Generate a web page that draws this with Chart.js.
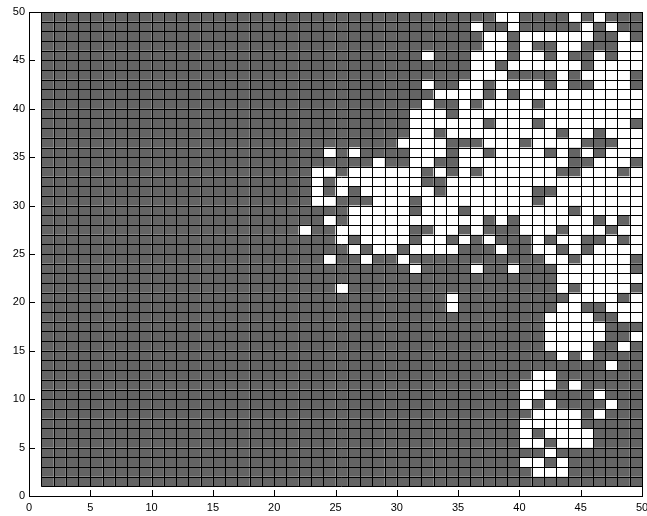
<!DOCTYPE html>
<html><head><meta charset="utf-8">
<script src="https://cdn.jsdelivr.net/npm/chart.js@4.4.0/dist/chart.umd.min.js"></script>
<style>html,body{margin:0;padding:0;background:#fff;overflow:hidden}#wrap{width:647px;height:516px}</style>
</head><body><div id="wrap"><canvas id="c" width="647" height="516"></canvas></div>
<script>
// Axis ticks
const xTickValues = [0,5,10,15,20,25,30,35,40,45,50];
const yTickValues = [0,5,10,15,20,25,30,35,40,45,50];
// Cell grid: cells span [c, c+1] x [r, r+1]
const cellCols = Array.from({length:49},(_,i)=>i+1);
const cellRows = Array.from({length:49},(_,i)=>i+1);
const gridEdges = Array.from({length:50},(_,i)=>i+1);
// Row numbers listed top to bottom, and the white cell columns in each row
const rowOrder = [49,48,47,46,45,44,43,42,41,40,39,38,37,36,35,34,33,32,31,30,29,28,27,26,25,24,23,22,21,20,19,18,17,16,15,14,13,12,11,10,9,8,7,6,5,4,3,2,1];
const whiteColsByRow = [
  [38,39,44,46],
  [36,39,45,47],
  [37,38,40,41,42,43,44,45,48],
  [37,38,40,43,44,48,49],
  [32,36,37,38,40,41,43,46,48,49],
  [36,37,39,40,41,42,43,44,46,47,48,49],
  [36,37,38,43,45,46,47,48],
  [32,35,36,38,39,40,41,43,46,47,48],
  [33,34,35,36,38,40,41,42,43,44,45,46,47,48,49],
  [32,35,37,38,39,40,42,43,44,45,46,47,48,49],
  [31,32,33,35,36,37,38,39,40,41,42,43,44,45,46,47,48,49],
  [31,32,33,34,35,36,38,39,40,42,43,44,45,46,47,48],
  [31,32,34,35,36,37,38,39,40,41,42,44,45,47,48,49],
  [30,31,32,33,37,38,39,41,42,43,44,48,49],
  [24,26,31,32,33,35,36,38,39,40,41,43,45,47,48,49],
  [28,31,32,35,36,37,38,39,40,41,42,43,46,47,48],
  [23,24,26,27,28,29,30,31,33,35,37,38,39,40,41,42,45,46,47,49],
  [23,25,26,27,28,29,30,31,34,35,36,37,38,39,40,41,42,43,44,45,46,47,48,49],
  [23,25,27,28,29,30,31,32,34,35,36,37,38,39,40,43,44,45,46,47,48,49],
  [23,24,28,29,30,32,33,34,35,36,37,38,39,40,42,43,44,45,46,47,48,49],
  [26,27,28,29,30,32,33,34,36,37,38,39,40,41,42,43,45,46,47,48,49],
  [24,26,27,28,29,30,31,32,33,34,35,36,38,40,41,42,43,44,45,47,49],
  [22,25,26,27,28,29,30,33,34,36,40,41,42,44,45,46,48,49],
  [25,27,28,29,30,32,33,35,37,41,43,44,47,49],
  [26,28,29,31,32,33,34,38,41,42,44,46,47,48,49],
  [24,27,30,42,43,45,46,47,48],
  [31,36,39,43,44,45,46,47,48],
  [43,44,45,46,47,48,49],
  [25,43,45,46,47,48],
  [34,44,45,46,47,49],
  [34,43,44,47,48,49],
  [42,43,44,45,48,49],
  [42,43,44,45,46],
  [42,43,44,45,46,49],
  [42,43,44,45,48],
  [43,45],
  [47],
  [41,42],
  [40,41,42,44],
  [40,41,46],
  [40,42,47],
  [41,42,43,44,46],
  [40,41,42,43,44],
  [40,42,43,44,45],
  [40,41,43,44,45],
  [42],
  [40,41,43],
  [41,42,43],
  []
];

const darkPts = [], whitePts = [];
rowOrder.forEach((r, i) => {
  const w = new Set(whiteColsByRow[i]);
  cellCols.forEach(c => (w.has(c) ? whitePts : darkPts).push({x:c, y:r}));
});

const cellPlugin = {
  id: 'cells',
  beforeDatasetsDraw(chart) {
    const {ctx, chartArea, scales:{x, y}} = chart;
    ctx.save();
    // inward tick marks
    ctx.strokeStyle = '#000'; ctx.lineWidth = 1;
    ctx.beginPath();
    xTickValues.forEach(v => { const p = Math.round(x.getPixelForValue(v)) + 0.5;
      ctx.moveTo(p, chartArea.bottom); ctx.lineTo(p, chartArea.bottom - 6);
      ctx.moveTo(p, chartArea.top); ctx.lineTo(p, chartArea.top + 6); });
    yTickValues.forEach(v => { const p = Math.round(y.getPixelForValue(v)) + 0.5;
      ctx.moveTo(chartArea.left, p); ctx.lineTo(chartArea.left + 6, p);
      ctx.moveTo(chartArea.right, p); ctx.lineTo(chartArea.right - 6, p); });
    ctx.stroke();
    // cells
    chart.data.datasets.forEach(ds => {
      ctx.fillStyle = ds.backgroundColor;
      ds.data.forEach(p => {
        const x0 = x.getPixelForValue(p.x), x1 = x.getPixelForValue(p.x + 1);
        const y0 = y.getPixelForValue(p.y + 1), y1 = y.getPixelForValue(p.y);
        ctx.fillRect(x0, y0, x1 - x0, y1 - y0);
      });
    });
    // cell edges
    ctx.strokeStyle = '#000'; ctx.lineWidth = 1;
    ctx.beginPath();
    const yb = y.getPixelForValue(1), yt = y.getPixelForValue(50);
    const xl = x.getPixelForValue(1), xr = x.getPixelForValue(50);
    gridEdges.forEach(e => {
      const px = Math.round(x.getPixelForValue(e)) + 0.5;
      ctx.moveTo(px, yb); ctx.lineTo(px, yt);
      const py = Math.round(y.getPixelForValue(e)) + 0.5;
      ctx.moveTo(xl, py); ctx.lineTo(xr, py);
    });
    ctx.stroke();
    // frame
    ctx.strokeRect(Math.round(chartArea.left) + 0.5, Math.round(chartArea.top) + 0.5,
      Math.round(chartArea.right - chartArea.left), Math.round(chartArea.bottom - chartArea.top));
    ctx.restore();
  }
};

const tickFont = {family: '"Liberation Sans", Arial, sans-serif', size: 11};
new Chart(document.getElementById('c'), {
  type: 'scatter',
  data: { datasets: [
    { label: 'dark', data: darkPts, backgroundColor: '#646464', pointRadius: 0 },
    { label: 'white', data: whitePts, backgroundColor: '#ffffff', pointRadius: 0 }
  ]},
  options: {
    responsive: false, animation: false, devicePixelRatio: 1,
    layout: { padding: { top: 12, right: 5, left: 0, bottom: 0 } },
    plugins: { legend: { display: false }, tooltip: { enabled: false } },
    events: [],
    scales: {
      x: { type: 'linear', min: 0, max: 50,
        afterBuildTicks: s => { s.ticks = xTickValues.map(v => ({value: v})); },
        afterFit: s => { s.height = 20; s.paddingLeft = 0; s.paddingRight = 0; },
        grid: { display: false, drawTicks: false }, border: { display: false },
        ticks: { color: '#000', font: tickFont, padding: 5, maxRotation: 0, autoSkip: false } },
      y: { type: 'linear', min: 0, max: 50,
        afterBuildTicks: s => { s.ticks = yTickValues.map(v => ({value: v})); },
        afterFit: s => { s.width = 29; s.paddingTop = 0; s.paddingBottom = 0; },
        grid: { display: false, drawTicks: false }, border: { display: false },
        ticks: { color: '#000', font: tickFont, padding: 4, autoSkip: false } }
    }
  },
  plugins: [cellPlugin]
});
</script></body></html>
